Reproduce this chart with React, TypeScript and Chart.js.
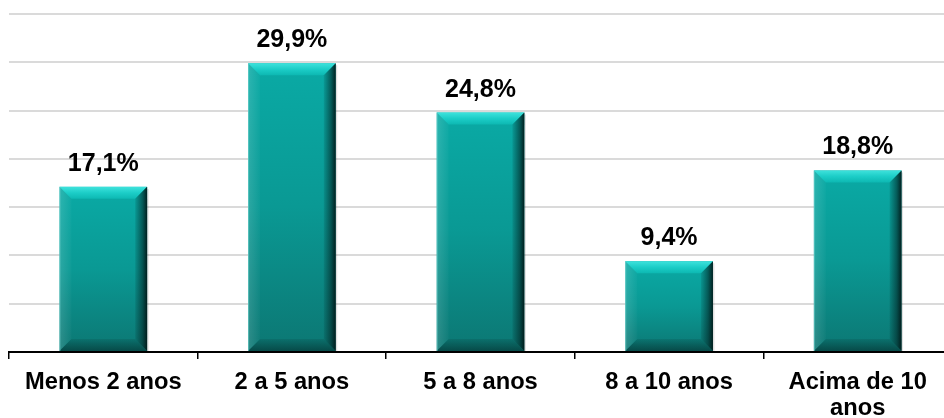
import React, { useEffect, useRef } from "react";
import { Chart, registerables } from "chart.js";

Chart.register(...registerables);

const categories: (string | string[])[] = [
  "Menos 2 anos",
  "2 a 5 anos",
  "5 a 8 anos",
  "8 a 10 anos",
  ["Acima de 10", "anos"],
];
const values: number[] = [17.1, 29.9, 24.8, 9.4, 18.8];
const valueLabels: string[] = ["17,1%", "29,9%", "24,8%", "9,4%", "18,8%"];

const FONT = '"Liberation Sans", Arial, sans-serif';

const bevelPlugin = {
  id: "bevelBars",
  afterDatasetsDraw(chart: any) {
    const ctx: CanvasRenderingContext2D = chart.ctx;
    const meta = chart.getDatasetMeta(0);
    meta.data.forEach((bar: any, i: number) => {
      const { x, y, base, width } = bar.getProps(["x", "y", "base", "width"], true);
      const L = x - width / 2;
      const R = x + width / 2;
      const T = Math.min(y, base);
      const B = Math.max(y, base);
      const h = B - T;
      const b = Math.min(12, h / 3);
      ctx.save();
      // main face
      const g = ctx.createLinearGradient(0, T, 0, B);
      g.addColorStop(0, "#0aaaa5");
      g.addColorStop(0.5, "#0a9994");
      g.addColorStop(1, "#0c7773");
      ctx.fillStyle = g;
      ctx.fillRect(L, T, width, h);
      // top bevel
      const gt = ctx.createLinearGradient(0, T, 0, T + b);
      gt.addColorStop(0, "#3ee2dc");
      gt.addColorStop(0.5, "#1ccdc7");
      gt.addColorStop(1, "#0db8b2");
      ctx.fillStyle = gt;
      ctx.beginPath();
      ctx.moveTo(L, T);
      ctx.lineTo(R, T);
      ctx.lineTo(R - b, T + b);
      ctx.lineTo(L + b, T + b);
      ctx.closePath();
      ctx.fill();
      // left bevel
      const gl = ctx.createLinearGradient(L, 0, L + b, 0);
      gl.addColorStop(0, "rgba(255,255,255,0.14)");
      gl.addColorStop(1, "rgba(255,255,255,0.02)");
      ctx.fillStyle = gl;
      ctx.beginPath();
      ctx.moveTo(L, T);
      ctx.lineTo(L + b, T + b);
      ctx.lineTo(L + b, B - b);
      ctx.lineTo(L, B);
      ctx.closePath();
      ctx.fill();
      // bottom bevel
      const gb = ctx.createLinearGradient(0, B - b, 0, B);
      gb.addColorStop(0, "rgba(0,20,20,0.1)");
      gb.addColorStop(1, "rgba(0,20,20,0.45)");
      ctx.fillStyle = gb;
      ctx.beginPath();
      ctx.moveTo(L, B);
      ctx.lineTo(R, B);
      ctx.lineTo(R - b, B - b);
      ctx.lineTo(L + b, B - b);
      ctx.closePath();
      ctx.fill();
      // right bevel
      const gr = ctx.createLinearGradient(R - b, 0, R, 0);
      gr.addColorStop(0, "rgba(0,30,30,0.1)");
      gr.addColorStop(0.6, "rgba(0,30,30,0.55)");
      gr.addColorStop(1, "rgba(0,20,20,0.92)");
      ctx.fillStyle = gr;
      ctx.beginPath();
      ctx.moveTo(R, T);
      ctx.lineTo(R, B);
      ctx.lineTo(R - b, B - b);
      ctx.lineTo(R - b, T + b);
      ctx.closePath();
      ctx.fill();
      // thin light edge left
      ctx.strokeStyle = "rgba(110,210,205,0.6)";
      ctx.lineWidth = 1;
      ctx.beginPath();
      ctx.moveTo(L + 0.5, T);
      ctx.lineTo(L + 0.5, B);
      ctx.stroke();
      // soft shadow to the right
      ctx.fillStyle = "rgba(0,0,0,0.12)";
      ctx.fillRect(R, T + 2, 1.5, h - 2);
      // value label
      ctx.fillStyle = "#000";
      ctx.font = `bold 25px ${FONT}`;
      ctx.textAlign = "center";
      ctx.textBaseline = "alphabetic";
      ctx.fillText(valueLabels[i], x, T - 16);
      ctx.restore();
    });
  },
};

export default function App() {
  const ref = useRef<HTMLCanvasElement>(null);
  useEffect(() => {
    document.body.style.margin = "0";
    const chart = new Chart(ref.current!, {
      type: "bar",
      data: {
        labels: categories,
        datasets: [
          {
            data: values,
            backgroundColor: "rgba(0,0,0,0)",
            borderWidth: 0,
            categoryPercentage: 1,
            barPercentage: 0.465,
          },
        ],
      },
      options: {
        animation: false,
        responsive: true,
        maintainAspectRatio: false,
        layout: { padding: { left: 9, top: 14, right: 0, bottom: 0 } },
        plugins: { legend: { display: false }, tooltip: { enabled: false } },
        scales: {
          y: {
            min: 0,
            max: 35,
            ticks: { display: false, stepSize: 5 },
            border: { display: false },
            grid: { color: "#dadada", lineWidth: 2, drawTicks: false },
            afterFit: (s: any) => {
              s.width = 0;
            },
          },
          x: {
            border: { display: true, color: "#000", width: 2 },
            grid: {
              display: true,
              drawOnChartArea: false,
              drawTicks: true,
              tickLength: 7,
              color: "#000",
              lineWidth: 1.5,
            },
            ticks: {
              color: "#000",
              font: { family: FONT, size: 23.7, weight: "bold", lineHeight: 1.1 },
              padding: 10,
              autoSkip: false,
              maxRotation: 0,
              minRotation: 0,
            },
            afterFit: (s: any) => {
              s.height = 66;
            },
          },
        },
      },
      plugins: [bevelPlugin],
    });
    return () => chart.destroy();
  }, []);
  return (
    <div style={{ position: "fixed", left: 0, top: 0, width: 944, height: 418, overflow: "hidden" }}>
      <div style={{ position: "relative", width: 952, height: 418 }}>
        <canvas ref={ref} />
      </div>
    </div>
  );
}
